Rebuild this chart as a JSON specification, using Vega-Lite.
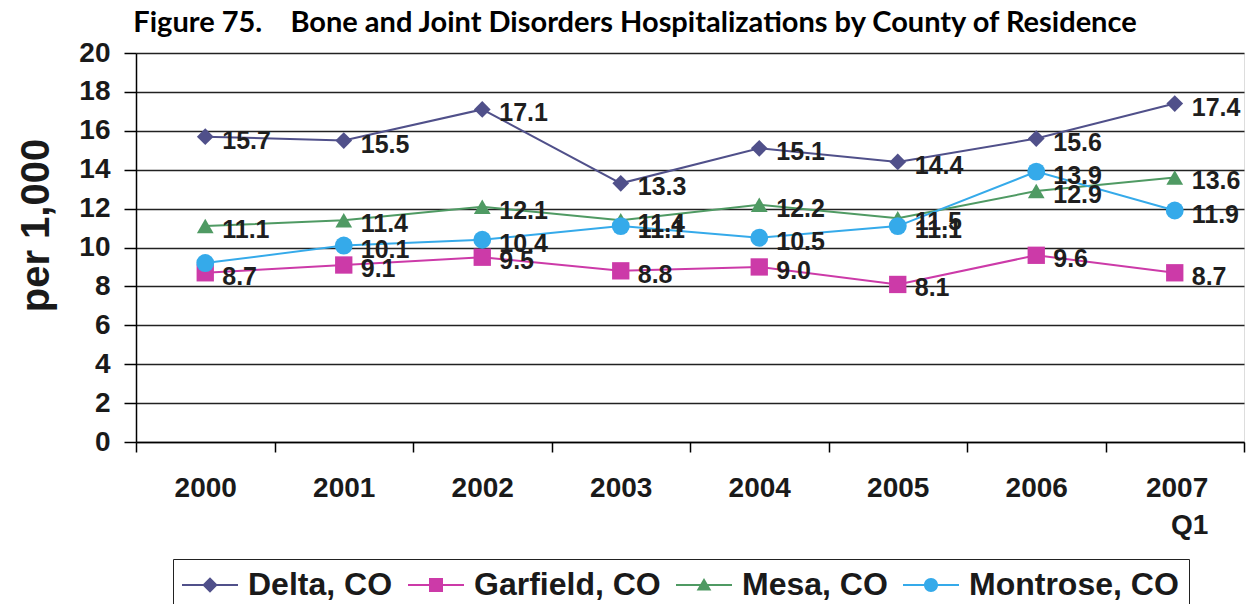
{
  "$schema": "https://vega.github.io/schema/vega-lite/v6.json",
  "width": 1108,
  "height": 389,
  "autosize": "none",
  "padding": {"left": 136, "top": 53, "right": 16, "bottom": 162},
  "background": "white",
  "title": {
    "text": "Figure 75.\u00a0\u00a0\u00a0 Bone and Joint Disorders Hospitalizations by County of Residence",
    "font": "Lato",
    "fontWeight": "bold",
    "fontSize": 29,
    "color": "#000000",
    "anchor": "middle",
    "dx": -55,
    "dy": 19,
    "offset": 20
  },
  "data": {
    "values": [
      {"year": "2000", "county": "Delta, CO", "value": 15.7, "label": "15.7"},
      {"year": "2001", "county": "Delta, CO", "value": 15.5, "label": "15.5"},
      {"year": "2002", "county": "Delta, CO", "value": 17.1, "label": "17.1"},
      {"year": "2003", "county": "Delta, CO", "value": 13.3, "label": "13.3"},
      {"year": "2004", "county": "Delta, CO", "value": 15.1, "label": "15.1"},
      {"year": "2005", "county": "Delta, CO", "value": 14.4, "label": "14.4"},
      {"year": "2006", "county": "Delta, CO", "value": 15.6, "label": "15.6"},
      {"year": "2007 Q1", "county": "Delta, CO", "value": 17.4, "label": "17.4"},
      {"year": "2000", "county": "Garfield, CO", "value": 8.7, "label": "8.7"},
      {"year": "2001", "county": "Garfield, CO", "value": 9.1, "label": "9.1"},
      {"year": "2002", "county": "Garfield, CO", "value": 9.5, "label": "9.5"},
      {"year": "2003", "county": "Garfield, CO", "value": 8.8, "label": "8.8"},
      {"year": "2004", "county": "Garfield, CO", "value": 9.0, "label": "9.0"},
      {"year": "2005", "county": "Garfield, CO", "value": 8.1, "label": "8.1"},
      {"year": "2006", "county": "Garfield, CO", "value": 9.6, "label": "9.6"},
      {"year": "2007 Q1", "county": "Garfield, CO", "value": 8.7, "label": "8.7"},
      {"year": "2000", "county": "Mesa, CO", "value": 11.1, "label": "11.1"},
      {"year": "2001", "county": "Mesa, CO", "value": 11.4, "label": "11.4"},
      {"year": "2002", "county": "Mesa, CO", "value": 12.1, "label": "12.1"},
      {"year": "2003", "county": "Mesa, CO", "value": 11.4, "label": "11.4"},
      {"year": "2004", "county": "Mesa, CO", "value": 12.2, "label": "12.2"},
      {"year": "2005", "county": "Mesa, CO", "value": 11.5, "label": "11.5"},
      {"year": "2006", "county": "Mesa, CO", "value": 12.9, "label": "12.9"},
      {"year": "2007 Q1", "county": "Mesa, CO", "value": 13.6, "label": "13.6"},
      {"year": "2000", "county": "Montrose, CO", "value": 9.2, "label": ""},
      {"year": "2001", "county": "Montrose, CO", "value": 10.1, "label": "10.1"},
      {"year": "2002", "county": "Montrose, CO", "value": 10.4, "label": "10.4"},
      {"year": "2003", "county": "Montrose, CO", "value": 11.1, "label": "11.1"},
      {"year": "2004", "county": "Montrose, CO", "value": 10.5, "label": "10.5"},
      {"year": "2005", "county": "Montrose, CO", "value": 11.1, "label": "11.1"},
      {"year": "2006", "county": "Montrose, CO", "value": 13.9, "label": "13.9"},
      {"year": "2007 Q1", "county": "Montrose, CO", "value": 11.9, "label": "11.9"}
    ]
  },
  "encoding": {
    "x": {
      "field": "year",
      "type": "ordinal",
      "sort": ["2000", "2001", "2002", "2003", "2004", "2005", "2006", "2007 Q1"],
      "scale": {"type": "band", "paddingInner": 0, "paddingOuter": 0},
      "bandPosition": 0.5,
      "axis": {
        "title": null,
        "tickBand": "extent",
        "labelExpr": "datum.value == '2007 Q1' ? ['2007', 'Q1'] : datum.value",
        "labelAlign": {"condition": {"test": "datum.value == '2007 Q1'", "value": "right"}, "value": "center"},
        "labelOffset": {"condition": {"test": "datum.value == '2007 Q1'", "value": 33}, "value": 0},
        "labelFont": "Liberation Sans",
        "labelFontWeight": "bold",
        "labelFontSize": 28,
        "labelColor": "#1a1a1a",
        "labelPadding": 22,
        "labelLineHeight": 37,
        "labelAngle": 0,
        "labelBaseline": "top",
        "domainColor": "#000000",
        "domainWidth": 1.5,
        "tickColor": "#000000",
        "tickSize": 10,
        "tickWidth": 1.5,
        "grid": false
      }
    },
    "y": {
      "field": "value",
      "type": "quantitative",
      "scale": {"domain": [0, 20], "nice": false},
      "axis": {
        "title": "per 1,000",
        "titleFont": "Liberation Sans",
        "titleFontWeight": "bold",
        "titleFontSize": 40,
        "titleColor": "#1a1a1a",
        "titlePadding": 22,
        "titleY": 172,
        "values": [0, 2, 4, 6, 8, 10, 12, 14, 16, 18, 20],
        "labelFont": "Liberation Sans",
        "labelFontWeight": "bold",
        "labelFontSize": 28,
        "labelColor": "#1a1a1a",
        "labelPadding": 14,
        "tickColor": "#000000",
        "tickSize": 12,
        "tickWidth": 1.5,
        "domainColor": "#000000",
        "domainWidth": 1.5,
        "grid": true,
        "gridColor": "#222222",
        "gridWidth": 1.3
      }
    },
    "color": {
      "field": "county",
      "type": "nominal",
      "scale": {
        "domain": ["Delta, CO", "Garfield, CO", "Mesa, CO", "Montrose, CO"],
        "range": ["#50508a", "#cc3aa8", "#4f9a63", "#35aaea"]
      }
    }
  },
  "layer": [
    {
      "mark": {"type": "line", "strokeWidth": 2},
      "encoding": {
        "color": {
          "field": "county",
          "type": "nominal",
          "legend": {
            "title": null,
            "orient": "none",
            "legendX": 37,
            "legendY": 506,
            "direction": "horizontal",
            "columns": 4,
            "strokeColor": "#222222",
            "fillColor": "#ffffff",
            "padding": 10,
            "columnPadding": 15,
            "symbolSize": 196,
            "symbolOffset": 11,
            "labelOffset": 22,
            "labelFont": "Liberation Sans",
            "labelFontWeight": "bold",
            "labelFontSize": 32,
            "labelColor": "#1a1a1a",
            "labelLimit": 400,
            "encode": {
              "symbols": {
                "update": {
                  "shape": {"signal": "datum.value == 'Delta, CO' ? 'M-4,-0.14H4V0.14H-4Z M0,-1.1L1.1,0L0,1.1L-1.1,0Z' : datum.value == 'Garfield, CO' ? 'M-4,-0.14H4V0.14H-4Z M-1,-1H1V1H-1Z' : datum.value == 'Mesa, CO' ? 'M-4,-0.14H4V0.14H-4Z M0,-1L1.05,0.8L-1.05,0.8Z' : 'M-4,-0.14H4V0.14H-4Z M-1,0A1,1 0 1,1 1,0A1,1 0 1,1 -1,0Z'"},
                  "fill": {"scale": "color", "field": "value"},
                  "fillOpacity": {"value": 1},
                  "strokeWidth": {"value": 0},
                  "opacity": {"value": 1}
                }
              }
            }
          }
        }
      }
    },
    {
      "transform": [{"filter": "datum.county == 'Delta, CO'"}],
      "mark": {"type": "point", "shape": "diamond", "filled": true, "opacity": 1, "size": 280},
      "encoding": {"color": {"field": "county", "type": "nominal", "legend": null}}
    },
    {
      "transform": [{"filter": "datum.county == 'Garfield, CO'"}],
      "mark": {"type": "point", "shape": "square", "filled": true, "opacity": 1, "size": 300},
      "encoding": {"color": {"field": "county", "type": "nominal", "legend": null}}
    },
    {
      "transform": [{"filter": "datum.county == 'Mesa, CO'"}],
      "mark": {"type": "point", "shape": "triangle-up", "filled": true, "opacity": 1, "size": 280},
      "encoding": {"color": {"field": "county", "type": "nominal", "legend": null}}
    },
    {
      "transform": [{"filter": "datum.county == 'Montrose, CO'"}],
      "mark": {"type": "point", "shape": "circle", "filled": true, "opacity": 1, "size": 320},
      "encoding": {"color": {"field": "county", "type": "nominal", "legend": null}}
    },
    {
      "mark": {"type": "text", "align": "left", "baseline": "middle", "dx": 17, "dy": 4, "font": "Liberation Sans", "fontWeight": "bold", "fontSize": 25, "color": "#1e1e1e"},
      "encoding": {
        "text": {"field": "label"},
        "color": {"value": "#1e1e1e"}
      }
    }
  ]
}
